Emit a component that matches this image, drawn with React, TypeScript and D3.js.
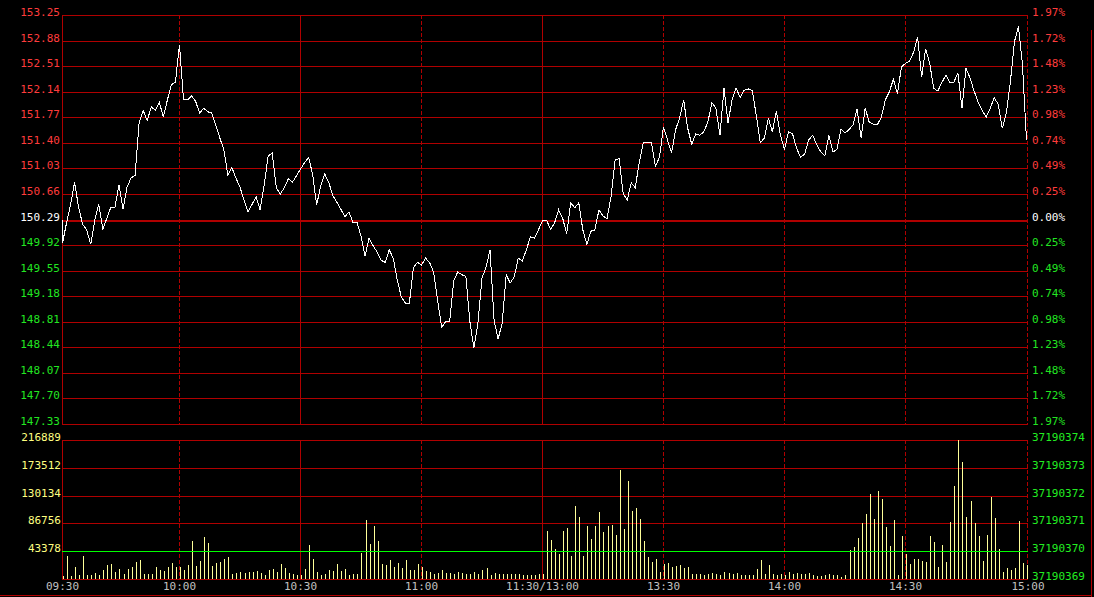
import React from "react";
import * as d3 from "d3";

// ---- data ----
const priceTicks = ["147.33","147.70","148.07","148.44","148.81","149.18","149.55","149.92","150.29","150.66","151.03","151.40","151.77","152.14","152.51","152.88","153.25"];
const pctTicks = ["1.97%","1.72%","1.48%","1.23%","0.98%","0.74%","0.49%","0.25%","0.00%","0.25%","0.49%","0.74%","0.98%","1.23%","1.48%","1.72%","1.97%"];
const volTicks = ["0","43378","86756","130134","173512","216889"];
const volRightTicks = ["37190369","37190370","37190371","37190372","37190373","37190374"];
const timeLabels = ["09:30","10:00","10:30","11:00","11:30/13:00","13:30","14:00","14:30","15:00"];
const timeIndex = [0, 29, 59, 89, 119, 149, 179, 209, 239];
const preClose = 150.29;
const openPrice = 150.28;

const prices = [
  149.95,150.24,150.50,150.83,150.46,150.22,150.14,149.93,150.28,150.51,
  150.15,150.31,150.47,150.47,150.79,150.44,150.76,150.89,150.93,151.69,
  151.87,151.72,151.92,151.87,151.99,151.77,152.02,152.24,152.28,152.82,
  152.03,152.02,152.08,152.00,151.83,151.90,151.85,151.83,151.66,151.47,
  151.30,150.93,151.04,150.89,150.76,150.57,150.40,150.51,150.62,150.43,
  150.79,151.21,151.25,150.75,150.66,150.75,150.88,150.83,150.92,151.02,
  151.11,151.19,150.95,150.50,150.77,150.95,150.83,150.64,150.54,150.44,
  150.33,150.40,150.25,150.25,150.05,149.76,150.02,149.91,149.82,149.70,
  149.67,149.85,149.73,149.41,149.17,149.08,149.08,149.59,149.67,149.63,
  149.73,149.67,149.53,149.12,148.73,148.81,148.82,149.41,149.53,149.49,
  149.47,148.81,148.43,148.79,149.44,149.60,149.85,148.83,148.56,148.79,
  149.49,149.37,149.46,149.73,149.69,149.85,150.04,150.02,150.14,150.27,
  150.28,150.15,150.24,150.43,150.31,150.08,150.53,150.46,150.53,150.14,
  149.93,150.12,150.14,150.43,150.34,150.30,150.62,151.15,151.17,150.67,
  150.57,150.82,150.75,151.12,151.40,151.41,151.41,151.06,151.19,151.63,
  151.44,151.25,151.59,151.76,152.02,151.61,151.38,151.53,151.51,151.56,
  151.70,151.98,151.90,151.51,152.19,151.69,152.02,152.19,152.06,152.16,
  152.18,152.16,151.80,151.40,151.47,151.76,151.56,151.86,151.51,151.30,
  151.56,151.53,151.32,151.19,151.24,151.44,151.51,151.37,151.27,151.21,
  151.51,151.27,151.30,151.60,151.54,151.59,151.66,151.89,151.47,151.90,
  151.70,151.67,151.66,151.77,152.02,152.14,152.32,152.11,152.50,152.55,
  152.58,152.71,152.93,152.35,152.76,152.55,152.19,152.15,152.27,152.38,
  152.27,152.28,152.41,151.90,152.48,152.34,152.15,151.99,151.87,151.77,
  151.90,152.05,151.96,151.61,151.83,152.28,152.86,153.09,152.53,151.44
];

const volumes = [
  5138,35344,5138,18217,6695,36278,5761,6695,9342,6695,
  14480,22265,23822,10899,16037,8252,16037,18217,26936,30050,
  8252,8252,8252,18217,14480,12923,18217,25379,18217,18217,
  14480,22265,59633,20708,28493,65861,56519,19774,25379,26936,
  31607,34721,8252,9809,11366,9809,11366,10899,12923,9809,
  6695,14480,16037,11366,23822,17594,9809,8252,6695,6695,
  16037,53405,31607,11366,6695,8252,14480,12923,23822,12923,
  16037,6695,8252,8252,40949,92330,54962,82988,59633,23822,
  22265,30050,19151,25379,17594,30050,14480,14480,23822,19151,
  12923,11366,8252,9809,14480,9809,9809,8252,11366,9809,
  8252,8252,11366,8252,14480,17594,6695,9809,8252,8252,
  8252,8252,8252,8252,6695,6695,6695,6695,8252,8252,
  75203,61190,47177,39392,75203,79874,36278,114128,97001,36278,
  82988,62747,82988,104786,73646,82988,84545,68975,170180,78317,
  153053,106343,111014,93887,59633,34721,26936,31607,11366,23822,
  25379,19151,20708,22265,17594,19151,8252,8252,8252,6695,
  8252,9809,8252,6695,11366,9809,8252,9809,6695,6695,
  6695,6695,16037,30050,8252,22265,8252,6695,8252,6695,
  11366,8252,9809,8252,8252,9809,6695,5138,5138,6695,
  8252,6695,6695,3581,6695,45620,50291,64304,87659,101672,
  132812,93887,137483,125027,81431,51848,92330,6695,67418,39392,
  23822,31607,31607,28493,26936,67418,58076,19151,53405,26936,
  89216,145268,216889,182636,97001,121913,87659,67418,28493,68975,
  128141,95444,47177,11366,17594,14480,17594,90773,25379,22265
];

const GRID = "#b00000";
const FONT = "'DejaVu Sans Mono', 'Liberation Mono', monospace";

export default function App() {
  const W = 1094, H = 597;
  const L = 62, R = 1028;
  const x = d3.scaleLinear().domain([0, 239]).range([62.5, 1026.5]);
  const yP = d3.scaleLinear().domain([147.33, 153.25]).range([424, 15]);
  const yV = d3.scaleLinear().domain([0, 216889]).range([579, 440]);

  const pts: [number, number][] = [[x(0), yP(openPrice)], ...prices.map((p, i) => [x(i), yP(p)] as [number, number])];
  const line = d3.line();
  const solidIdx = new Set([59, 119]);
  const crisp = (v: number) => Math.round(v) + 0.5;

  return (
    <div style={{ position: "fixed", left: 0, top: 0 }}>
      <svg width={W} height={H} style={{ display: "block", background: "#000" }} fontFamily={FONT} fontSize={11}>
        <rect x={0} y={0} width={W} height={H} fill="#000" />
        {priceTicks.map((t, k) => {
          const v = +t;
          const y = crisp(yP(v));
          const isZero = Math.abs(v - preClose) < 1e-6;
          return (
            <line key={"pg" + k} x1={L} x2={R} y1={isZero ? y + 0.5 : y} y2={isZero ? y + 0.5 : y}
              stroke={GRID} strokeWidth={isZero ? 2 : 1} shapeRendering="crispEdges" />
          );
        })}
        {volTicks.map((t, k) => {
          const y = crisp(yV(+t));
          return k === 1 ? null : (
            <line key={"vg" + k} x1={L} x2={R} y1={y} y2={y} stroke={GRID} strokeWidth={1} shapeRendering="crispEdges" />
          );
        })}
        {[15, 440].map((top, p) => {
          const bottom = p === 0 ? 424 : 579;
          return (
            <g key={"v" + p}>
              <line x1={L + 0.5} x2={L + 0.5} y1={top} y2={bottom + 1} stroke={GRID} shapeRendering="crispEdges" />
              <line x1={R - 0.5} x2={R - 0.5} y1={top} y2={bottom + 1} stroke={GRID} strokeDasharray="4,2" shapeRendering="crispEdges" />
              {timeIndex.slice(1, 8).map((ti) => (
                <line key={ti} x1={Math.floor(x(ti)) + 0.5} x2={Math.floor(x(ti)) + 0.5} y1={top} y2={bottom + 1}
                  stroke={GRID} strokeDasharray={solidIdx.has(ti) ? undefined : "4,2"} shapeRendering="crispEdges" />
              ))}
            </g>
          );
        })}
        {volumes.map((v, i) => (
          <rect key={"b" + i} x={Math.floor(x(i)) + 1} y={yV(v)} width={1} height={yV(0) - yV(v)} fill="#ffff99" shapeRendering="crispEdges" />
        ))}
        <line x1={L} x2={R} y1={crisp(yV(+volTicks[1]))} y2={crisp(yV(+volTicks[1]))} stroke="#00ff00" shapeRendering="crispEdges" />
        <path d={line(pts) || ""} fill="none" stroke="#ffffff" strokeWidth={1} shapeRendering="crispEdges" />
        {priceTicks.map((t, k) => {
          const v = +t;
          const col = Math.abs(v - preClose) < 1e-6 ? "#ffffff" : v > preClose ? "#ff3c3c" : "#22e622";
          return (
            <text key={"pl" + k} x={60} y={Math.round(yP(v)) + 1} textAnchor="end" fill={col}>{t}</text>
          );
        })}
        {pctTicks.map((t, k) => {
          const v = +priceTicks[16 - k];
          const col = Math.abs(v - preClose) < 1e-6 ? "#ffffff" : v > preClose ? "#ff3c3c" : "#22e622";
          return (
            <text key={"pr" + k} x={1032} y={Math.round(yP(v)) + 1} fill={col}>{t}</text>
          );
        })}
        {volTicks.map((t, k) => k === 0 ? null : (
          <text key={"vl" + k} x={61} y={Math.round(yV(+t)) + 1} textAnchor="end" fill="#ffff80">{t}</text>
        ))}
        {volRightTicks.map((t, k) => (
          <text key={"vr" + k} x={1032} y={Math.round(yV(+volTicks[k])) + 1} fill="#22ee22">{t}</text>
        ))}
        {timeLabels.map((t, k) => (
          <text key={"t" + k} x={k === 8 ? 1028 : Math.floor(x(timeIndex[k])) + 0.5} y={590} textAnchor="middle" fill="#c0c0c0">{t}</text>
        ))}
        <line x1={0} x2={1092} y1={595.5} y2={595.5} stroke={GRID} shapeRendering="crispEdges" />
        <line x1={1091.5} x2={1091.5} y1={30} y2={597} stroke={GRID} shapeRendering="crispEdges" />
      </svg>
    </div>
  );
}
